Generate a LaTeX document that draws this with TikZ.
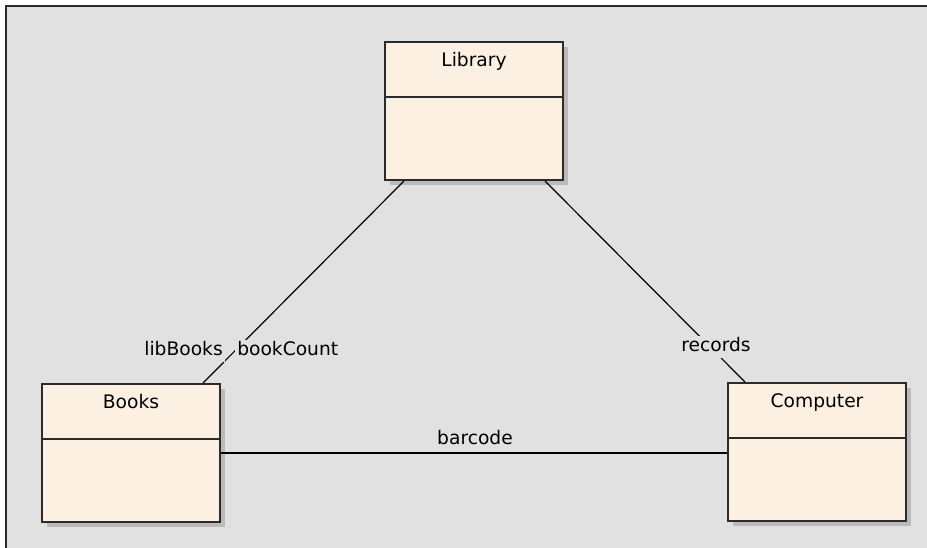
\documentclass[tikz,border=0pt]{standalone}
\usepackage{fontspec}
\setsansfont{DejaVu Sans}
\usetikzlibrary{shadows}
\definecolor{canvas}{HTML}{E1E1E1}
\definecolor{classfill}{HTML}{FBF0E2}
\definecolor{classline}{HTML}{2B2B2B}
\tikzset{
  classbox/.style={draw=classline, line width=1.5pt, fill=classfill,
    minimum width=133.5pt, minimum height=103.5pt, inner sep=0pt,
    drop shadow={shadow xshift=4pt, shadow yshift=-4pt, fill=black!27, opacity=1}},
  classname/.style={font=\sffamily\fontsize{14}{16}\selectfont, inner sep=0pt, anchor=base},
  rolelabel/.style={font=\sffamily\fontsize{14}{16}\selectfont, fill=canvas, inner sep=1.5pt,
    text height=10.5pt, text depth=3pt},
  assoc/.style={draw=black, line width=0.9pt}
}

\begin{document}
\begin{tikzpicture}[x=0.75pt, y=-0.75pt]
\useasboundingbox (0,0) rectangle (927,548);
\fill[white] (0,0) rectangle (927,548);
\fill[canvas] (6,6) rectangle (927,548);
\draw[classline, line width=1.8pt] (6,548) -- (6,6) -- (927,6);

% classes
\node[classbox] (library) at (474,111) {};
\node[classbox] (books) at (131,453) {};
\node[classbox] (computer) at (817,452) {};

\foreach \c/\t in {library/Library, books/Books, computer/Computer}{
  \draw[classline, line width=1.2pt] ([yshift=-42pt]\c.north west) -- ([yshift=-42pt]\c.north east);
  \node[classname] (\c-name) at ([yshift=-19.1pt]\c.north) {\t};
}

% associations
\draw[assoc] ([xshift=-52.5pt]library.south) -- ([xshift=54pt]books.north);
\draw[assoc] ([xshift=53.25pt]library.south) -- ([xshift=-54pt]computer.north);
\draw[assoc] (books.east) -- (books.east -| computer.west);

\node[rolelabel, anchor=east] (libbooks) at (225,351) {libBooks};
\node[rolelabel, anchor=west] (bookcount) at (235,351) {bookCount};
\node[rolelabel] (records) at (716,347) {records};
\node[rolelabel, fill=none] (barcode) at (475,439) {barcode};
\end{tikzpicture}
\end{document}
